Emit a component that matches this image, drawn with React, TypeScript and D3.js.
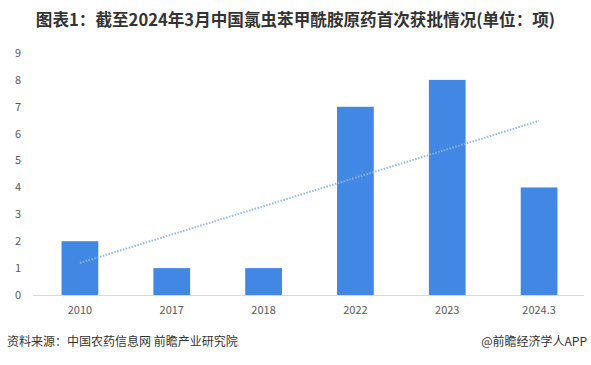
import React, { useEffect, useRef } from "react";
import * as d3 from "d3";

const categories = ["2010", "2017", "2018", "2022", "2023", "2024.3"];
const approvals = [2, 1, 1, 7, 8, 4];
const yTicks = [0, 1, 2, 3, 4, 5, 6, 7, 8, 9];

const App: React.FC = () => {
  const svgRef = useRef<SVGSVGElement>(null);

  useEffect(() => {
    if (!svgRef.current) return;
    const root = d3.select(svgRef.current);
    root.selectAll("*").remove();

    const width = 591;
    const height = 365;
    const margin = { top: 53, right: 7, bottom: 70, left: 33 };
    const innerH = height - margin.top - margin.bottom;

    const svg = root.attr("width", width).attr("height", height);
    const font = "'Microsoft YaHei', 'Noto Sans CJK SC', sans-serif";

    // title
    svg
      .append("text")
      .attr("x", width / 2)
      .attr("y", 26)
      .attr("text-anchor", "middle")
      .attr("font-family", font)
      .attr("font-size", 16.6)
      .attr("font-weight", "bold")
      .attr("fill", "#333")
      .text("图表1：截至2024年3月中国氯虫苯甲酰胺原药首次获批情况(单位：项)");

    const g = svg
      .append("g")
      .attr("transform", `translate(${margin.left},${margin.top})`);

    const x = d3
      .scaleBand()
      .domain(categories)
      .range([0, width - margin.left - margin.right])
      .paddingInner(0.6)
      .paddingOuter(0.3);

    const y = d3.scaleLinear().domain([0, 9]).range([innerH, 0]);

    // y tick labels (no axis line)
    g.selectAll(".ytick")
      .data(yTicks)
      .enter()
      .append("text")
      .attr("x", -15)
      .attr("y", (d) => y(d))
      .attr("dy", "0.35em")
      .attr("text-anchor", "middle")
      .attr("font-family", font)
      .attr("font-size", 11)
      .attr("fill", "#595959")
      .text((d) => d);

    // bars
    g.selectAll(".bar")
      .data(approvals)
      .enter()
      .append("rect")
      .attr("x", (_, i) => (x(categories[i]) as number) + 1)
      .attr("y", (d) => y(d))
      .attr("width", x.bandwidth())
      .attr("height", (d) => innerH - y(d))
      .attr("fill", "#4187e3");

    // baseline
    g.append("line")
      .attr("x1", 0)
      .attr("x2", width - margin.left - margin.right)
      .attr("y1", innerH + 0.5)
      .attr("y2", innerH + 0.5)
      .attr("stroke", "#d9d9d9");

    // x labels
    g.selectAll(".xtick")
      .data(categories)
      .enter()
      .append("text")
      .attr("x", (d) => (x(d) as number) + x.bandwidth() / 2 + 1)
      .attr("y", innerH + 19)
      .attr("text-anchor", "middle")
      .attr("font-family", font)
      .attr("font-size", 11)
      .attr("fill", "#595959")
      .text((d) => d);

    // linear trend line
    const n = approvals.length;
    const mx = d3.mean(d3.range(n)) as number;
    const my = d3.mean(approvals) as number;
    const slope =
      d3.sum(approvals, (v, i) => (i - mx) * (v - my)) /
      d3.sum(d3.range(n), (i) => (i - mx) ** 2);
    const icpt = my - slope * mx;
    const cx = (i: number) => (x(categories[i]) as number) + x.bandwidth() / 2 + 1;
    g.append("line")
      .attr("x1", cx(0))
      .attr("y1", y(icpt))
      .attr("x2", cx(n - 1))
      .attr("y2", y(icpt + slope * (n - 1)))
      .attr("stroke", "#8fb6ee")
      .attr("stroke-width", 2)
      .attr("stroke-dasharray", "1.5 1.5");

    // footer
    svg
      .append("text")
      .attr("x", 7)
      .attr("y", 346)
      .attr("font-family", font)
      .attr("font-size", 12)
      .attr("fill", "#333")
      .text("资料来源：中国农药信息网 前瞻产业研究院");
    svg
      .append("text")
      .attr("x", 587)
      .attr("y", 346)
      .attr("text-anchor", "end")
      .attr("font-family", font)
      .attr("font-size", 12)
      .attr("fill", "#333")
      .text("@前瞻经济学人APP");
  }, []);

  return <svg ref={svgRef} style={{ position: "absolute", left: 0, top: 0 }}></svg>;
};

export default App;
